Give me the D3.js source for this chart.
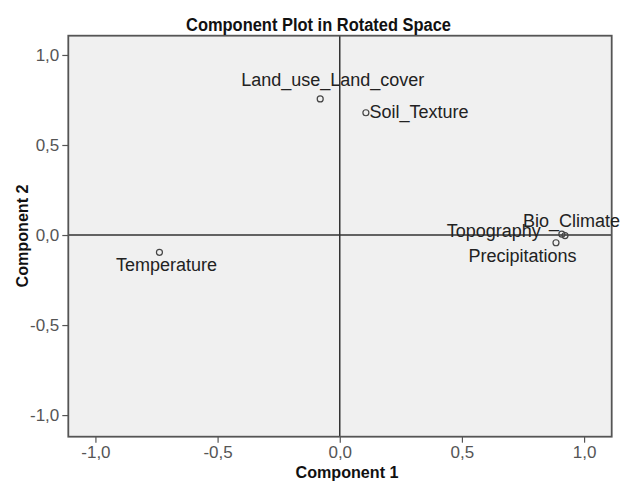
<!DOCTYPE html>
<html>
<head>
<meta charset="utf-8">
<script src="https://cdn.jsdelivr.net/npm/d3@7"></script>
<style>
  html, body { margin: 0; padding: 0; background: #ffffff; }
  svg { display: block; }
</style>
</head>
<body>
<script>
// ---- data ----
const variables = ["Land_use_Land_cover", "Soil_Texture", "Temperature", "Bio_Climate", "Topography", "Precipitations"];
const component1 = [-0.080, 0.107, -0.738, 0.922, 0.909, 0.885];
const component2 = [0.756, 0.679, -0.096, -0.003, 0.005, -0.043];
const xTicks = [-1.0, -0.5, 0.0, 0.5, 1.0];
const yTicks = [-1.0, -0.5, 0.0, 0.5, 1.0];
const title = "Component Plot in Rotated Space";
const xTitle = "Component 1";
const yTitle = "Component 2";

// ---- layout ----
const W = 620, H = 483;
const plot = { left: 68.3, right: 611.7, top: 35.7, bottom: 436.7 };

// label placement (style/layout, keyed by variable)
const labelPlace = {
  "Land_use_Land_cover": { anchor: "middle", dx: 12.5, dy: -12.5 },
  "Soil_Texture":        { anchor: "start",  dx: 3.5,  dy: 5.5 },
  "Temperature":         { anchor: "middle", dx: 7,    dy: 19 },
  "Bio_Climate":         { anchor: "start",  dx: -42,  dy: -9 },
  "Topography":          { anchor: "end",    dx: -21,  dy: 3 },
  "Precipitations":      { anchor: "middle", dx: -33.5, dy: 19 }
};

const svg = d3.select("body").append("svg").attr("width", W).attr("height", H);

const x = d3.scaleLinear().domain([-1.111, 1.113]).range([plot.left, plot.right]);
const y = d3.scaleLinear().domain([-1.12, 1.107]).range([plot.bottom, plot.top]);

// plot background
svg.append("rect")
  .attr("x", plot.left).attr("y", plot.top)
  .attr("width", plot.right - plot.left).attr("height", plot.bottom - plot.top)
  .attr("fill", "#f0f0f0");

// reference lines at zero
svg.append("line")
  .attr("x1", x(0)).attr("x2", x(0)).attr("y1", plot.top).attr("y2", plot.bottom)
  .attr("stroke", "#333").attr("stroke-width", 1.5);
svg.append("line")
  .attr("x1", plot.left).attr("x2", plot.right).attr("y1", y(0)).attr("y2", y(0))
  .attr("stroke", "#333").attr("stroke-width", 1.5);

// axes
const fmt = d => d3.format(".1f")(d).replace(".", ",").replace("−", "-");
const xAxis = svg.append("g")
  .attr("transform", `translate(0,${plot.bottom})`)
  .call(d3.axisBottom(x).tickValues(xTicks).tickFormat(fmt).tickSize(6).tickSizeOuter(0));
const yAxis = svg.append("g")
  .attr("transform", `translate(${plot.left},0)`)
  .call(d3.axisLeft(y).tickValues(yTicks).tickFormat(fmt).tickSize(6).tickSizeOuter(0));

[xAxis, yAxis].forEach(g => {
  g.select(".domain").remove();
  g.selectAll(".tick line").attr("stroke", "#555").attr("stroke-width", 1.2);
  g.selectAll(".tick text")
    .attr("fill", "#555")
    .style("font-family", "'Liberation Sans', Arial, sans-serif")
    .style("font-size", "17px");
});
xAxis.selectAll(".tick text").attr("dy", "0.71em").attr("y", 9);
yAxis.selectAll(".tick text").attr("x", -9);

// frame
svg.append("rect")
  .attr("x", plot.left).attr("y", plot.top)
  .attr("width", plot.right - plot.left).attr("height", plot.bottom - plot.top)
  .attr("fill", "none").attr("stroke", "#555").attr("stroke-width", 1.8);

// points
const pts = variables.map((v, i) => ({ name: v, c1: component1[i], c2: component2[i] }));
svg.append("g").selectAll("circle").data(pts).join("circle")
  .attr("cx", d => x(d.c1)).attr("cy", d => y(d.c2)).attr("r", 3)
  .attr("fill", "none").attr("stroke", "#444").attr("stroke-width", 1.2);

// labels
svg.append("g").selectAll("text").data(pts).join("text")
  .attr("x", d => x(d.c1) + labelPlace[d.name].dx)
  .attr("y", d => y(d.c2) + labelPlace[d.name].dy)
  .attr("text-anchor", d => labelPlace[d.name].anchor)
  .attr("fill", "#222")
  .style("font-family", "'Liberation Sans', Arial, sans-serif")
  .style("font-size", "18px")
  .text(d => d.name);

// titles
const boldFont = "'Liberation Sans Narrow', 'Arial Narrow', 'Liberation Sans', Arial, sans-serif";
svg.append("text")
  .attr("x", 318.5).attr("y", 31)
  .attr("text-anchor", "middle")
  .attr("textLength", 265).attr("lengthAdjust", "spacingAndGlyphs")
  .attr("fill", "#111")
  .style("font-family", boldFont).style("font-weight", "bold").style("font-size", "18px")
  .text(title);

svg.append("text")
  .attr("x", 347).attr("y", 478)
  .attr("text-anchor", "middle")
  .attr("textLength", 103).attr("lengthAdjust", "spacingAndGlyphs")
  .attr("fill", "#111")
  .style("font-family", boldFont).style("font-weight", "bold").style("font-size", "16px")
  .text(xTitle);

svg.append("text")
  .attr("transform", "translate(28,236) rotate(-90)")
  .attr("text-anchor", "middle")
  .attr("textLength", 103).attr("lengthAdjust", "spacingAndGlyphs")
  .attr("fill", "#111")
  .style("font-family", boldFont).style("font-weight", "bold").style("font-size", "16px")
  .text(yTitle);
</script>
</body>
</html>
